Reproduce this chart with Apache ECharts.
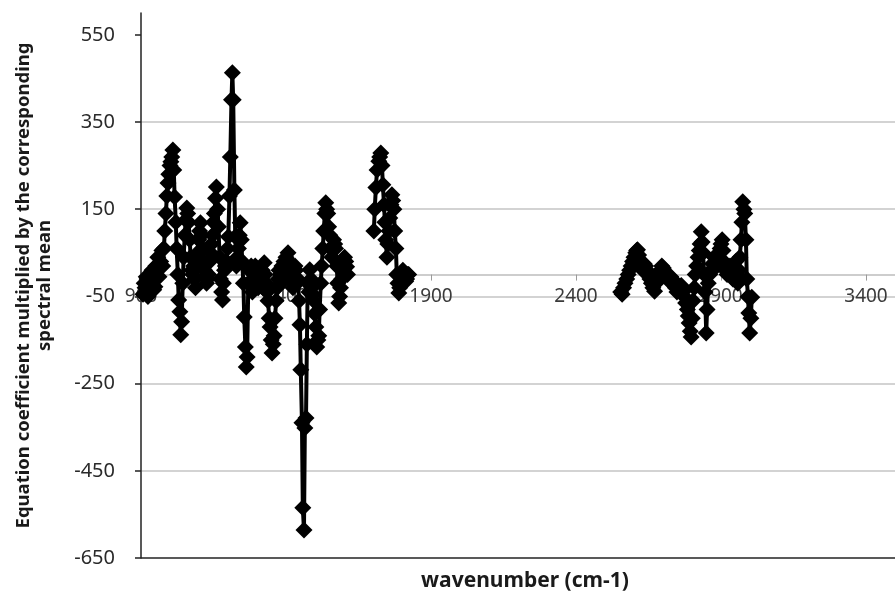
<!DOCTYPE html>
<html>
<head>
<meta charset="utf-8">
<script src="https://cdn.jsdelivr.net/npm/echarts@6/dist/echarts.min.js"></script>
<style>
  html, body { margin: 0; padding: 0; background: #fff; }
  #chart { width: 895px; height: 592px; }
</style>
</head>
<body>
<div id="chart"></div>
<script>
// wavenumber (cm-1) of each point; a null coefficient marks a break in the curve
const wavenumbers = [
  907, 911, 914, 918, 921, 924, 927, 931, 934, 938, 941, 944, 948, 951, 955, 958, 962, 965, 968, 972,
  975, 979, 982, 986, 989, 993, 996, 1000, 1003, 1006, 1010, 1013, 1016, 1020, 1023, 1027, 1030, 1034, 1037, 1040,
  1044, 1047, 1051, 1054, 1058, 1061, 1064, 1068, 1071, 1075, 1078, 1082, 1085, 1088, 1092, 1095, 1099, 1102, 1105, 1109,
  1112, 1116, 1119, 1123, 1126, 1130, 1133, 1137, 1140, 1143, 1147, 1150, 1153, 1157, 1160, 1164, 1167, 1171, 1174, 1178,
  1181, 1184, 1188, 1191, 1195, 1198, 1201, 1205, 1208, 1212, 1215, 1218, 1222, 1225, 1229, 1232, 1236, 1239, 1242, 1246,
  1249, 1253, 1256, 1260, 1263, 1266, 1270, 1273, 1277, 1280, 1284, 1287, 1290, 1294, 1297, 1301, 1304, 1307, 1311, 1314,
  1318, 1321, 1325, 1328, 1332, 1335, 1338, 1342, 1345, 1349, 1352, 1356, 1359, 1362, 1366, 1369, 1373, 1376, 1380, 1383,
  1386, 1390, 1393, 1397, 1400, 1404, 1407, 1410, 1414, 1417, 1421, 1424, 1427, 1431, 1434, 1438, 1441, 1445, 1448, 1451,
  1455, 1458, 1462, 1465, 1469, 1472, 1475, 1479, 1482, 1486, 1489, 1493, 1496, 1499, 1503, 1506, 1510, 1513, 1516, 1520,
  1523, 1527, 1530, 1534, 1537, 1540, 1544, 1547, 1551, 1554, 1558, 1561, 1564, 1568, 1571, 1575, 1578, 1582, 1585, 1588,
  1592, 1595, 1599, 1602, 1606, 1609, 1612,
  1650,
  1703, 1706, 1710, 1714, 1720, 1723, 1727, 1731, 1734, 1738, 1741, 1744, 1748, 1751, 1755, 1758, 1762, 1765, 1768, 1772,
  1775, 1779, 1782, 1786, 1789, 1792, 1796, 1799, 1803, 1806, 1810, 1813, 1816, 1820, 1823,
  2200,
  2554, 2559, 2564, 2569, 2575, 2580, 2585, 2590, 2595, 2600, 2606, 2609, 2612, 2616, 2619, 2624, 2630, 2635, 2640, 2645,
  2650, 2655, 2660, 2665, 2671, 2676, 2681, 2686, 2691, 2696, 2701, 2706, 2712, 2717, 2722, 2727, 2732, 2737, 2743, 2748,
  2753, 2758, 2763, 2768, 2773, 2778, 2784, 2787, 2790, 2794, 2797, 2801, 2804, 2808, 2811, 2816, 2821, 2825, 2828, 2832,
  2835, 2838, 2842, 2845, 2849, 2852, 2856, 2861, 2866, 2871, 2876, 2881, 2886, 2891, 2897, 2900, 2904, 2907, 2910, 2915,
  2921, 2926, 2931, 2936, 2941, 2946, 2951, 2955, 2958, 2962, 2965, 2969, 2972, 2975, 2979, 2982, 2986, 2989, 2993, 2996,
  2999, 3003, 3006
];

// equation coefficient multiplied by the corresponding spectral mean
const coefficients = [
  -45, -20, -30, -5, -10, -50, -42, -15, -20, 10, 0, -35, -28, 20, 10, 40, -5, 15, 30, 55,
  20, 60, 100, 140, 180, 210, 230, 250, 259, 270, 286, 240, 178, 120, 60, 0, -58, -85, -138, -108,
  -20, 40, 90, 125, 153, 140, 120, 80, 40, 10, 0, 20, -10, -30, 20, 50, 80, 100, 119, 90,
  60, 30, 10, -5, -20, -10, 0, 30, 50, 70, 90, 120, 140, 175, 201, 150, 110, 40, -10, -40,
  -58, -20, 10, 20, 30, 60, 87, 180, 270, 401, 463, 401, 194, 87, 20, 40, 60, 90, 119, 80,
  30, -20, -97, -166, -212, -189, -20, 10, -20, 20, -40, -15, -10, 20, 0, -25, -30, 0, 10, -10,
  10, -30, 27, 0, -20, -40, -60, -100, -120, -150, -180, -160, -140, -100, -60, -30, -10, 10, 0, -20,
  20, 0, 30, 10, 40, 20, 50, 30, 20, -10, 0, -30, -20, 20, 10, -20, -10, -60, -115, -218,
  -340, -535, -586, -352, -329, -160, -20, -40, 11, -10, -30, -45, -60, -90, -120, -166, -150, -140, -80, -20,
  20, 60, 100, 140, 165, 150, 140, 110, 90, 60, 40, 60, 80, 70, 60, 20, -20, -65, -50, -30,
  -10, 10, 30, 40, 30, 18, 0,
  null,
  100, 150, 200, 240, 260, 270, 279, 250, 206, 160, 120, 80, 40, 70, 100, 130, 160, 183, 170, 150,
  100, 60, 0, -20, -42, -30, -20, 0, 10, 5, -5, -15, -10, 0, 0,
  null,
  -40, -45, -30, -20, -10, 0, 10, 20, 30, 40, 50, 55, 57, 45, 30, 20, 10, 25, 20, 10,
  0, -10, -20, -30, -38, -20, -10, 0, 10, 20, 15, 5, -5, -10, -15, -5, -10, -20, -30, -40,
  -35, -30, -25, -40, -50, -65, -80, -95, -111, -130, -143, -100, -60, -30, 0, 20, 40, 55, 70, 98,
  75, 50, 0, -40, -134, -80, -20, 0, 10, 25, 40, 30, 20, 40, 60, 70, 80, 55, 30, 10,
  0, 10, 20, 5, -10, 10, 30, 0, -20, 10, 40, 80, 120, 167, 150, 140, 80, -10, -51, -88,
  -134, -100, -52
];

const xTickStart = 900;
const xTickStep = 500;
const yTicks = [-650, -450, -250, -50, 150, 350, 550];
const yMin = -650;
const yMax = 600;

const points = wavenumbers.map((w, i) => [w, coefficients[i] === null ? '-' : coefficients[i]]);

// place the wavenumber axis on the zero line of the coefficient axis
const gridTop = 13;
const gridBottom = 34;
const plotHeight = 592 - gridTop - gridBottom;
const zeroOffset = -plotHeight * (0 - yMin) / (yMax - yMin);

const chart = echarts.init(document.getElementById('chart'));
chart.setOption({
  animation: false,
  backgroundColor: '#fff',
  grid: { left: 141, right: -5, top: gridTop, bottom: gridBottom, containLabel: false },
  title: {
    text: 'wavenumber (cm-1)',
    left: 520,
    top: 566,
    textAlign: 'center',
    textStyle: { fontFamily: 'Noto Sans', fontWeight: 'bold', fontSize: 21, color: '#1a1a1a' }
  },
  xAxis: {
    type: 'value',
    min: xTickStart,
    max: 3500,
    interval: xTickStep,
    offset: zeroOffset,
    axisLine: { onZero: false, lineStyle: { color: '#bdbdbd', width: 1.5 } },
    axisTick: { show: true, length: 6, lineStyle: { color: '#9a9a9a' } },
    axisLabel: {
      showMaxLabel: false,
      margin: 12,
      fontFamily: 'Noto Sans',
      fontSize: 19,
      color: '#3a3a3a',
      formatter: v => String(v)
    },
    splitLine: { show: false }
  },
  yAxis: {
    type: 'value',
    min: yMin,
    max: yMax,
    interval: 200,
    name: 'Equation coefficient multiplied by the corresponding\nspectral mean',
    nameLocation: 'middle',
    nameRotate: 90,
    nameGap: 86,
    nameTextStyle: { fontFamily: 'Noto Sans', fontWeight: 'bold', fontSize: 18.5, color: '#1a1a1a', lineHeight: 21 },
    axisLine: { show: true, onZero: false, lineStyle: { color: '#222', width: 1.5 } },
    axisTick: { show: true, length: 6, customValues: yTicks, lineStyle: { color: '#222', width: 1.5 } },
    axisLabel: {
      customValues: yTicks,
      margin: 26,
      fontFamily: 'Noto Sans',
      fontSize: 20,
      color: '#2a2a2a',
      formatter: v => String(v)
    },
    splitLine: {
      show: true,
      showMaxLine: false,
      lineStyle: { color: ['#222', '#c4c4c4', '#c4c4c4', '#c4c4c4', '#c4c4c4', '#c4c4c4', '#c4c4c4'], width: 1.5 }
    }
  },
  series: [{
    type: 'line',
    data: points,
    connectNulls: false,
    symbol: 'diamond',
    symbolSize: 17,
    showAllSymbol: true,
    lineStyle: { color: '#000', width: 4 },
    itemStyle: { color: '#000' }
  }]
});
</script>
</body>
</html>
